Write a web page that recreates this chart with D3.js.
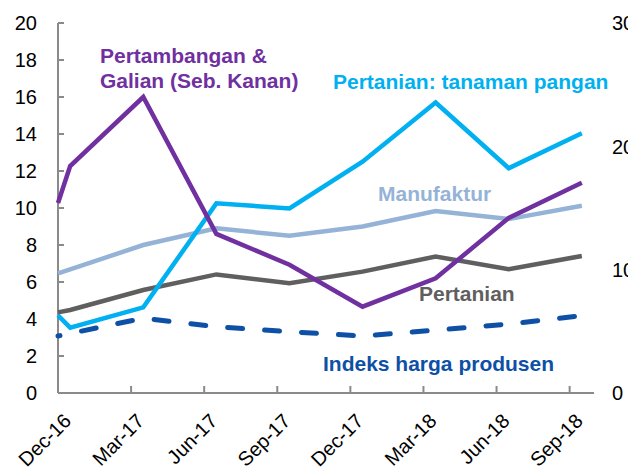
<!DOCTYPE html>
<html>
<head>
<meta charset="utf-8">
<script src="https://cdn.jsdelivr.net/npm/d3@7"></script>
<style>
  body { margin: 0; background: #fff; }
  svg { display: block; font-family: "Liberation Sans", Arial, sans-serif; }
</style>
</head>
<body>
<svg id="chart" width="628" height="469"></svg>
<script>
// observation dates (first point sits on the axis start, then quarterly mid-month)
const dates = ["2016-12-01", "2016-12-16", "2017-03-16", "2017-06-16", "2017-09-16",
               "2017-12-16", "2018-03-16", "2018-06-16", "2018-09-16"];
const tickLabels = ["Dec-16", "Mar-17", "Jun-17", "Sep-17", "Dec-17", "Mar-18", "Jun-18", "Sep-18"];
const leftTicks = [0, 2, 4, 6, 8, 10, 12, 14, 16, 18, 20];
const rightTicks = [0, 10, 20, 30];

const indeksHarga = [3.08, 3.22, 4.04, 3.58, 3.31, 3.08, 3.40, 3.73, 4.18];
const pertanian = [4.36, 4.49, 5.57, 6.41, 5.93, 6.56, 7.37, 6.69, 7.41];
const manufaktur = [6.47, 6.68, 8.00, 8.90, 8.50, 9.00, 9.84, 9.40, 10.12];
const tanamanPangan = [4.20, 3.53, 4.63, 10.25, 9.98, 12.50, 15.70, 12.15, 14.04];
const pertambangan = [15.4, 18.4, 24.0, 12.9, 10.4, 7.0, 9.3, 14.2, 17.05]; // right axis

// month offset from start of Dec-16
function monthIndex(s) {
  const [y, m, d] = s.split("-").map(Number);
  return (y - 2016) * 12 + (m - 12) + (d - 1) / 30;
}

const svg = d3.select("svg#chart");
const axisColor = "#8a8a8a";

const x = d3.scaleLinear().domain([0, 22]).range([58, 594]);
const yL = d3.scaleLinear().domain([0, 20]).range([393, 23]);
const yR = d3.scaleLinear().domain([0, 30]).range([393, 23]);

// axes
const gAxis = svg.append("g");
gAxis.append("line")
  .attr("x1", x(0)).attr("x2", x(0)).attr("y1", yL(20)).attr("y2", yL(0))
  .attr("stroke", axisColor).attr("stroke-width", 2);
gAxis.append("line")
  .attr("x1", x(0)).attr("x2", x(22)).attr("y1", yL(0)).attr("y2", yL(0))
  .attr("stroke", axisColor).attr("stroke-width", 2);

gAxis.selectAll("line.ytick").data(leftTicks).enter().append("line")
  .attr("class", "ytick")
  .attr("x1", x(0)).attr("x2", x(0) + 6)
  .attr("y1", d => yL(d)).attr("y2", d => yL(d))
  .attr("stroke", axisColor).attr("stroke-width", 2);

gAxis.selectAll("line.xtick").data(tickLabels).enter().append("line")
  .attr("class", "xtick")
  .attr("x1", (d, i) => x(i * 3)).attr("x2", (d, i) => x(i * 3))
  .attr("y1", yL(0)).attr("y2", yL(0) - 7)
  .attr("stroke", axisColor).attr("stroke-width", 2);

gAxis.selectAll("text.yl").data(leftTicks).enter().append("text")
  .attr("class", "yl")
  .attr("x", 37).attr("y", d => yL(d)).attr("dy", "0.36em")
  .attr("text-anchor", "end").attr("font-size", 20).attr("fill", "#000")
  .text(d => d);

gAxis.selectAll("text.yr").data(rightTicks).enter().append("text")
  .attr("class", "yr")
  .attr("x", 612).attr("y", d => yR(d)).attr("dy", "0.36em")
  .attr("text-anchor", "start").attr("font-size", 20).attr("fill", "#000")
  .text(d => d);

gAxis.selectAll("text.xl").data(tickLabels).enter().append("text")
  .attr("class", "xl")
  .attr("transform", (d, i) => `translate(${x(i * 3 + 0.5) - 8},${412}) rotate(-45)`)
  .attr("dy", "0.72em")
  .attr("text-anchor", "end").attr("font-size", 20).attr("fill", "#000")
  .text(d => d);

// series
const xs = dates.map(monthIndex);
const series = [
  { vals: indeksHarga, scale: yL, color: "#0d50a6", width: 5, dash: "15,22" },
  { vals: pertanian, scale: yL, color: "#5f5f5f", width: 4.5 },
  { vals: manufaktur, scale: yL, color: "#95b3d7", width: 4.5 },
  { vals: tanamanPangan, scale: yL, color: "#00b0f0", width: 4.5 },
  { vals: pertambangan, scale: yR, color: "#7030a0", width: 4.5 }
];

const gLines = svg.append("g");
series.forEach(s => {
  const line = d3.line().x((d, i) => x(xs[i])).y(d => s.scale(d));
  gLines.append("path")
    .datum(s.vals)
    .attr("d", line)
    .attr("fill", "none")
    .attr("stroke", s.color)
    .attr("stroke-width", s.width)
    .attr("stroke-linejoin", "miter")
    .attr("stroke-linecap", s.dash ? "round" : "butt")
    .attr("stroke-dasharray", s.dash || null)
    .attr("stroke-dashoffset", s.dash ? 13 : null);
});

// series labels
const labels = [
  { lines: ["Pertambangan &", "Galian (Seb. Kanan)"], x: 100, y: 63, color: "#7030a0" },
  { lines: ["Pertanian: tanaman pangan"], x: 333, y: 89, color: "#00b0f0" },
  { lines: ["Manufaktur"], x: 378, y: 201, color: "#95b3d7" },
  { lines: ["Pertanian"], x: 419, y: 301, color: "#5f5f5f" },
  { lines: ["Indeks harga produsen"], x: 323, y: 371, color: "#0d50a6" }
];
labels.forEach(l => {
  const t = svg.append("text")
    .attr("x", l.x).attr("y", l.y)
    .attr("font-size", 21).attr("font-weight", "bold").attr("fill", l.color);
  l.lines.forEach((ln, i) => {
    t.append("tspan").attr("x", l.x).attr("dy", i === 0 ? 0 : 25).text(ln);
  });
});
</script>
</body>
</html>
